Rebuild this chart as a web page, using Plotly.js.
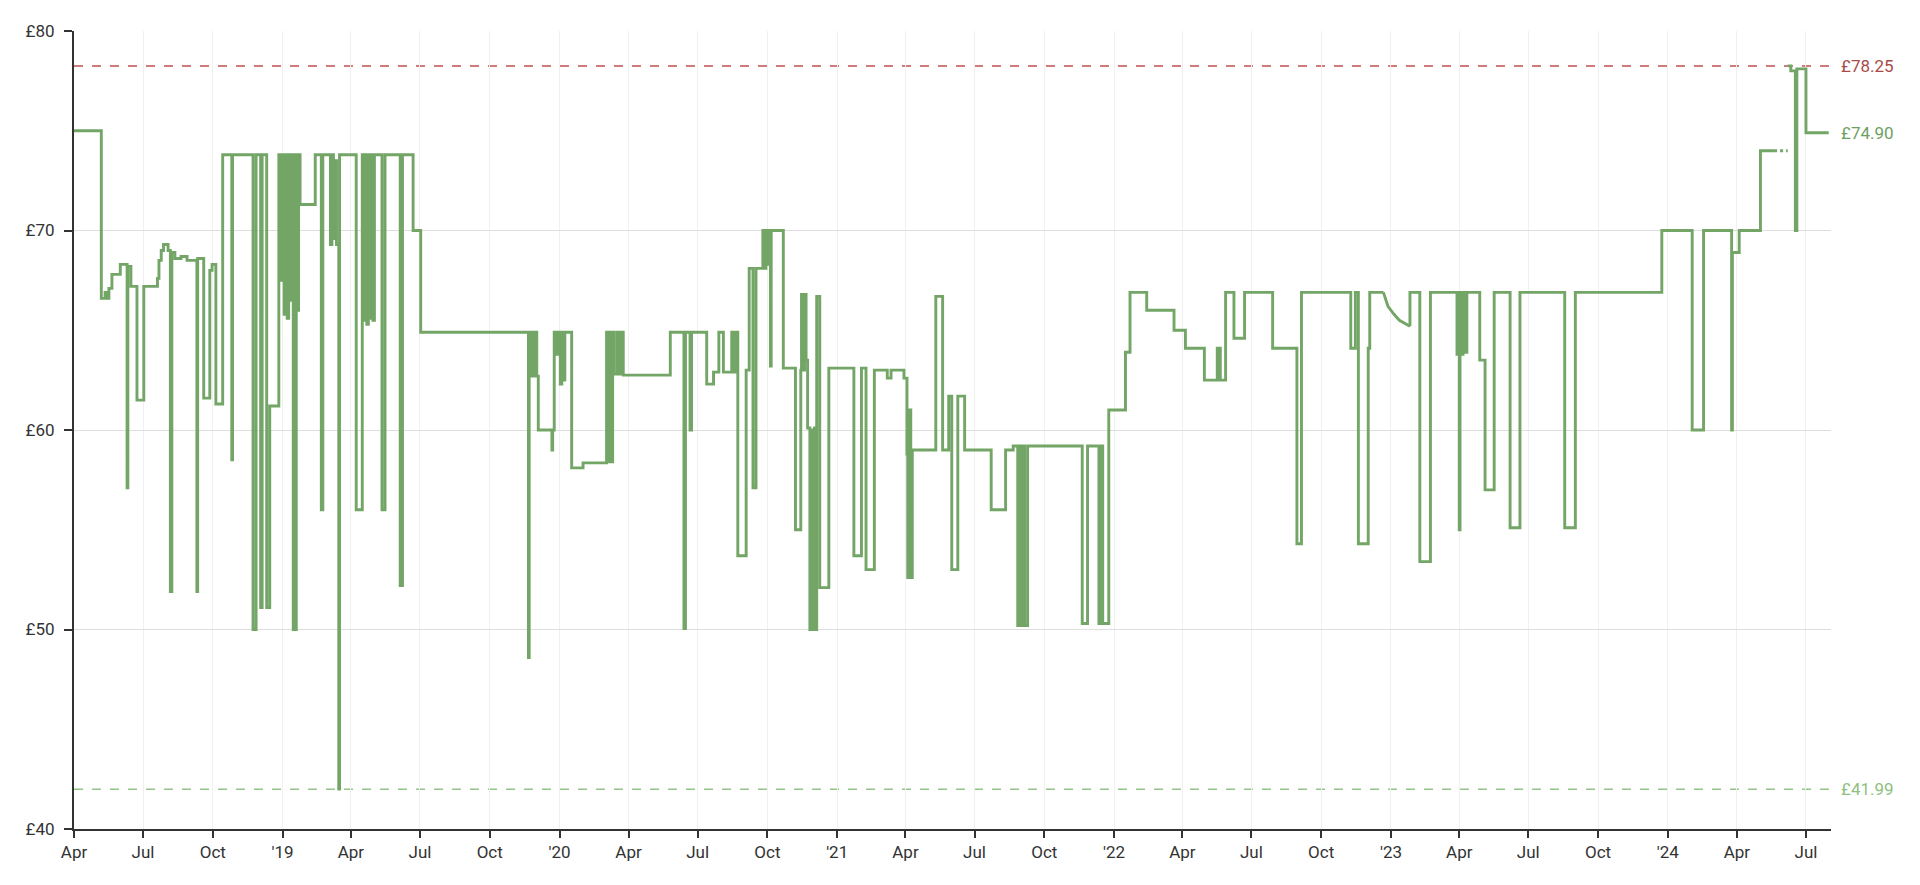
<!DOCTYPE html>
<html>
<head>
<meta charset="utf-8">
<script src="https://cdn.plot.ly/plotly-3.0.1.min.js"></script>
<style>
  html, body { margin: 0; padding: 0; background: #fff; }
  #chart { width: 1920px; height: 885px; }
</style>
</head>
<body>
<div id="chart"></div>
<script>
// ---- price history (step chart, each price holds from its date until the next; null = break) ----
const dates = [
  "2018-04-01","2018-05-07","2018-05-12","2018-05-15","2018-05-17","2018-05-21","2018-06-01","2018-06-10","2018-06-11","2018-06-15",
  "2018-06-23","2018-07-02","2018-07-20","2018-07-22","2018-07-25","2018-07-28","2018-08-03","2018-08-06","2018-08-08","2018-08-12",
  "2018-08-20","2018-08-28","2018-09-10","2018-09-11","2018-09-19","2018-09-27","2018-09-30","2018-10-05","2018-10-14","2018-10-26",
  "2018-10-27","2018-11-23","2018-11-27","2018-12-03","2018-12-05","2018-12-11","2018-12-15","2018-12-27","2018-12-29","2019-01-01",
  "2019-01-03","2019-01-05","2019-01-07","2019-01-09","2019-01-11","2019-01-13","2019-01-15","2019-01-16","2019-01-17","2019-01-19",
  "2019-01-20","2019-01-22","2019-01-24","2019-02-13","2019-02-21","2019-02-23","2019-03-05","2019-03-07","2019-03-09","2019-03-11",
  "2019-03-13","2019-03-16","2019-03-17","2019-04-08","2019-04-16","2019-04-18","2019-04-20","2019-04-22","2019-04-24","2019-04-26",
  "2019-04-28","2019-04-30","2019-05-02","2019-05-12","2019-05-16","2019-06-05","2019-06-08","2019-06-22","2019-07-02","2019-11-21",
  "2019-11-22","2019-11-24","2019-11-26","2019-11-28","2019-11-30","2019-12-02","2019-12-04","2019-12-22","2019-12-23","2019-12-25",
  "2019-12-28","2019-12-30","2020-01-02","2020-01-04","2020-01-06","2020-01-08","2020-01-17","2020-02-01","2020-03-03","2020-03-05",
  "2020-03-07","2020-03-09","2020-03-11","2020-03-13","2020-03-17","2020-03-19","2020-03-22","2020-03-25","2020-05-26","2020-06-13",
  "2020-06-15","2020-06-21","2020-06-23","2020-07-13","2020-07-22","2020-07-29","2020-08-04","2020-08-15","2020-08-18","2020-08-20",
  "2020-08-23","2020-09-03","2020-09-07","2020-09-12","2020-09-16","2020-09-25","2020-09-27","2020-09-29","2020-10-01","2020-10-03",
  "2020-10-05","2020-10-06","2020-10-22","2020-11-07","2020-11-14","2020-11-15","2020-11-17","2020-11-19","2020-11-21","2020-11-23",
  "2020-11-26","2020-11-28","2020-11-30","2020-12-02","2020-12-03","2020-12-05","2020-12-09","2020-12-21","2021-01-23","2021-02-02",
  "2021-02-08","2021-02-19","2021-03-08","2021-03-13","2021-03-30","2021-04-03","2021-04-04","2021-04-06","2021-04-08","2021-04-10",
  "2021-05-11","2021-05-20","2021-05-28","2021-06-01","2021-06-09","2021-06-18","2021-07-23","2021-08-11","2021-08-21","2021-08-27",
  "2021-08-29","2021-08-31","2021-09-03","2021-09-05","2021-09-09","2021-11-20","2021-11-27","2021-12-12","2021-12-15","2021-12-17",
  "2021-12-25","2022-01-16","2022-01-22","2022-02-13","2022-03-21","2022-04-05","2022-04-30","2022-05-17","2022-05-19","2022-05-20",
  "2022-05-21","2022-05-28","2022-06-08","2022-06-22","2022-07-29","2022-08-30","2022-09-05","2022-11-09","2022-11-15","2022-11-19",
  "2022-12-02","2022-12-04","2022-12-22","2022-12-22",
  "2023-01-26","2023-01-26","2023-02-08","2023-02-22","2023-03-29","2023-03-31","2023-04-01","2023-04-02","2023-04-04","2023-04-06","2023-04-08",
  "2023-04-11","2023-04-28","2023-05-05","2023-05-17","2023-06-07","2023-06-20","2023-08-18","2023-09-01","2023-12-24","2024-02-02",
  "2024-02-17","2024-03-25","2024-03-26","2024-04-04","2024-05-02","2024-05-20"
];
const prices = [
  75.0,66.6,66.9,66.6,67.1,67.8,68.3,57.1,68.2,67.2,
  61.5,67.2,67.6,68.5,69.0,69.3,69.0,51.9,68.9,68.6,
  68.7,68.5,51.9,68.6,61.6,68.0,68.3,61.3,73.8,58.5,
  73.8,50.0,73.8,51.1,73.8,51.1,61.2,73.8,67.5,73.8,
  65.8,73.8,65.6,73.8,66.5,73.8,50.0,73.8,50.0,73.8,
  66.0,73.8,71.3,73.8,56.0,73.8,69.3,73.8,69.6,73.5,
  69.3,42.0,73.8,56.0,73.8,65.5,73.8,65.3,73.8,65.6,
  73.8,65.5,73.8,56.0,73.8,52.2,73.8,70.0,64.9,48.6,
  64.9,62.7,64.9,62.7,64.9,62.7,60.0,59.0,60.0,64.9,
  63.8,64.9,62.3,64.9,62.5,64.9,58.1,58.35,64.9,58.4,
  64.9,58.4,64.9,62.8,64.9,62.8,64.9,62.75,64.9,50.05,
  64.9,60.0,64.9,62.3,62.9,64.9,62.9,64.9,62.9,64.9,
  53.7,63.0,68.1,57.1,68.1,70.0,68.1,70.0,68.3,70.0,
  63.2,70.0,63.1,55.0,63.0,66.8,63.0,66.8,63.5,60.1,
  50.0,60.0,50.0,60.1,50.0,66.7,52.1,63.1,53.7,63.1,
  53.0,63.0,62.6,63.0,62.6,58.8,52.6,61.0,52.6,59.0,
  66.7,59.0,61.7,53.0,61.7,59.0,56.0,59.0,59.2,50.2,
  59.2,50.2,59.2,50.2,59.2,50.3,59.2,50.3,59.2,50.3,
  61.0,63.9,66.9,66.0,65.0,64.1,62.5,64.1,62.5,64.1,
  62.5,66.9,64.6,66.9,64.1,54.3,66.9,64.1,66.9,54.3,
  64.1,66.9,66.9,null,
  65.2,66.9,53.4,66.9,63.8,66.9,55.0,66.9,63.8,66.9,63.9,
  66.9,63.5,57.0,66.9,55.1,66.9,55.1,66.9,70.0,60.0,
  70.0,60.0,68.9,70.0,74.0,74.0
];
// gradual (interpolated) decline around the turn of 2023
const slopeDates  = ["2022-12-22","2022-12-28","2023-01-05","2023-01-12","2023-01-26"];
const slopePrices = [66.9, 66.2, 65.8, 65.5, 65.2];
// period with no data (drawn dotted)
const gapDates  = ["2024-05-20","2024-06-07"];
const gapPrices = [74.0, 74.0];
// after the gap
const lateDates  = ["2024-06-07","2024-06-11","2024-06-17","2024-06-19","2024-07-01","2024-07-31"];
const latePrices = [78.25, 78.0, 70.0, 78.1, 74.9, 74.9];

// reference levels
const highestPrice = 78.25;
const currentPrice = 74.90;
const lowestPrice  = 41.99;

// axis ticks
const tickDates = ["2018-04-01","2018-07-01","2018-10-01","2019-01-01","2019-04-01","2019-07-01","2019-10-01",
  "2020-01-01","2020-04-01","2020-07-01","2020-10-01","2021-01-01","2021-04-01","2021-07-01","2021-10-01",
  "2022-01-01","2022-04-01","2022-07-01","2022-10-01","2023-01-01","2023-04-01","2023-07-01","2023-10-01",
  "2024-01-01","2024-04-01","2024-07-01"];
const tickLabels = ["Apr","Jul","Oct","'19","Apr","Jul","Oct","'20","Apr","Jul","Oct","'21","Apr","Jul","Oct",
  "'22","Apr","Jul","Oct","'23","Apr","Jul","Oct","'24","Apr","Jul"];
const yTicks = [40, 50, 60, 70, 80];
const xStart = "2018-04-01", xEnd = "2024-08-03";

const green = "#72a566";
const lw = 2.9;
const traces = [
  { x: dates, y: prices, type: "scatter", mode: "lines", connectgaps: false,
    line: { shape: "hv", color: green, width: lw }, hoverinfo: "x+y" },
  { x: slopeDates, y: slopePrices, type: "scatter", mode: "lines",
    line: { shape: "linear", color: green, width: lw }, hoverinfo: "x+y" },
  { x: gapDates, y: gapPrices, type: "scatter", mode: "lines",
    line: { shape: "hv", color: green, width: lw, dash: "dot" }, hoverinfo: "skip" },
  { x: lateDates, y: latePrices, type: "scatter", mode: "lines",
    line: { shape: "hv", color: green, width: lw }, hoverinfo: "x+y" }
];

const fontFam = "Roboto, 'Noto Sans', sans-serif";
const layout = {
  width: 1920, height: 885,
  margin: { l: 74, r: 89, t: 31, b: 56 },
  paper_bgcolor: "#ffffff", plot_bgcolor: "#ffffff",
  showlegend: false,
  font: { family: fontFam, size: 18, color: "#333" },
  xaxis: {
    type: "date", range: [xStart, xEnd],
    tickmode: "array", tickvals: tickDates, ticktext: tickLabels,
    showgrid: true, gridcolor: "#f0f0f0", gridwidth: 1,
    showline: true, linecolor: "#333", linewidth: 2,
    ticks: "outside", ticklen: 7, tickwidth: 2, tickcolor: "#333",
    tickfont: { family: fontFam, size: 17, color: "#333" },
    zeroline: false, fixedrange: true
  },
  yaxis: {
    range: [40, 80], tickmode: "array", tickvals: yTicks,
    ticktext: yTicks.map(v => "£" + v),
    showgrid: true, gridcolor: "#dedede", gridwidth: 1,
    showline: true, linecolor: "#333", linewidth: 2,
    ticks: "outside", ticklen: 8, tickwidth: 2, tickcolor: "#333",
    ticklabelstandoff: 6,
    tickfont: { family: fontFam, size: 17, color: "#333" },
    zeroline: false, fixedrange: true
  },
  shapes: [
    { type: "line", xref: "paper", x0: 0, x1: 1, yref: "y", y0: highestPrice, y1: highestPrice,
      line: { color: "#c0504d", width: 1.5, dash: "dash" }, layer: "below" },
    { type: "line", xref: "paper", x0: 0, x1: 1, yref: "y", y0: lowestPrice, y1: lowestPrice,
      line: { color: "#94c487", width: 1.5, dash: "dash" }, layer: "below" }
  ],
  annotations: [
    { xref: "paper", x: 1, yref: "y", y: highestPrice, xanchor: "left", yanchor: "middle", xshift: 8,
      text: "£" + highestPrice.toFixed(2), showarrow: false, font: { family: fontFam, size: 17, color: "#a94a48" } },
    { xref: "paper", x: 1, yref: "y", y: currentPrice, xanchor: "left", yanchor: "middle", xshift: 8,
      text: "£" + currentPrice.toFixed(2), showarrow: false, font: { family: fontFam, size: 17, color: "#6e9f61" } },
    { xref: "paper", x: 1, yref: "y", y: lowestPrice, xanchor: "left", yanchor: "middle", xshift: 8,
      text: "£" + lowestPrice.toFixed(2), showarrow: false, font: { family: fontFam, size: 17, color: "#8fbf81" } }
  ]
};

Plotly.newPlot("chart", traces, layout, { displayModeBar: false, staticPlot: true });
</script>
</body>
</html>
